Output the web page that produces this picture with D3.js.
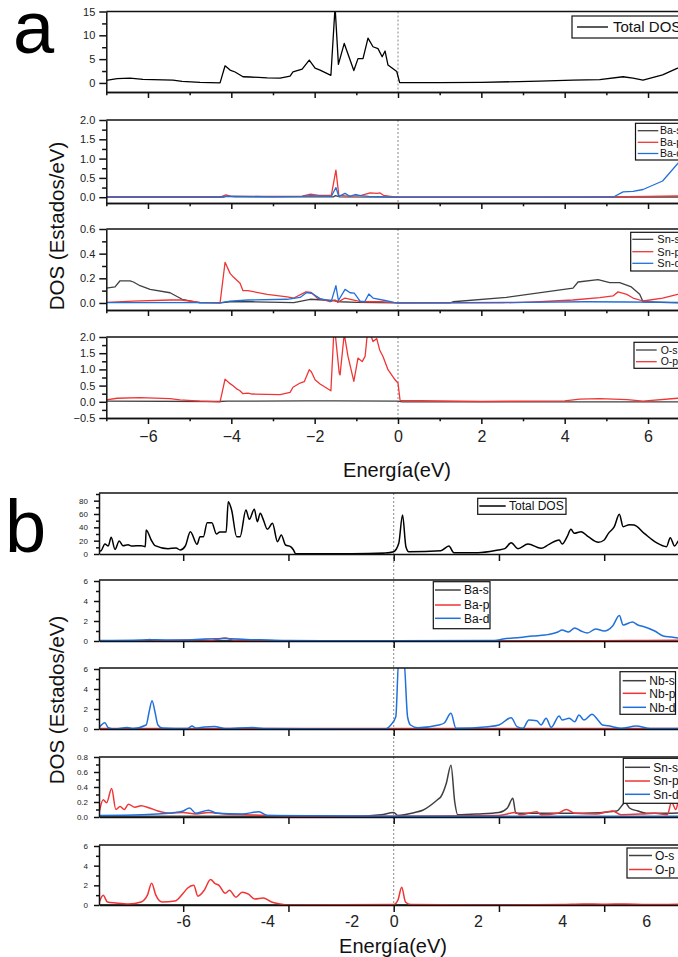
<!DOCTYPE html>
<html><head><meta charset="utf-8">
<script src="https://cdn.jsdelivr.net/npm/d3@7"></script>
<style>body{margin:0;background:#fff}svg{display:block;font-family:"Liberation Sans",Arial,sans-serif}</style>
</head><body><svg id="c" width="678" height="957"></svg>
<script>
// ---------- DATA (energy eV, DOS states/eV) ----------
// Panel a
const aTotal = [[-7.0,0.56],[-6.74,0.9],[-6.43,1.0],[-6.12,0.75],[-5.4,0.6],[-5.18,0.35],[-4.75,0.1],[-4.27,0.02],[-4.15,3.6],[-4.03,2.7],[-3.91,2.3],[-3.72,1.3],[-3.55,1.25],[-3.14,1.05],[-2.83,1.0],[-2.59,1.45],[-2.52,2.3],[-2.30,2.9],[-2.13,4.8],[-1.99,3.1],[-1.87,2.7],[-1.61,1.6],[-1.51,16],[-1.43,3.9],[-1.29,8.3],[-1.06,2.6],[-0.96,5.1],[-0.84,5.1],[-0.72,9.4],[-0.60,7.6],[-0.48,7.2],[-0.38,5.5],[-0.31,6.7],[-0.24,3.75],[-0.03,2.4],[0.04,0.06],[1.0,0.05],[2.0,0.1],[3.4,0.4],[4.2,0.6],[4.84,0.7],[5.4,1.3],[5.64,1.0],[5.88,0.6],[6.35,1.7],[6.71,3.1],[7.0,4.6]];
const aBaS = [[-7,0.005],[-4.2,0.005],[-4.1,0.02],[-3.9,0.01],[-1.55,0.01],[-1.5,0.04],[-1.4,0.01],[0,0.003],[7,0.005]];
const aBaP = [[-7,0.01],[-5,0.01],[-4.27,0.0],[-4.13,0.06],[-4.0,0.02],[-3,0.02],[-2.3,0.03],[-2.1,0.08],[-1.9,0.05],[-1.6,0.05],[-1.49,0.70],[-1.42,0.05],[-1.2,0.03],[-0.9,0.04],[-0.67,0.11],[-0.5,0.1],[-0.43,0.11],[-0.35,0.05],[-0.05,0.0],[4,0.0],[5,0.01],[6,0.02],[7,0.04]];
const aBaD = [[-7,0.0],[-4.27,0.0],[-4.1,0.03],[-3,0.01],[-2.3,0.02],[-2.1,0.04],[-1.6,0.02],[-1.49,0.25],[-1.42,0.02],[-1.27,0.1],[-1.15,0.02],[-1.03,0.07],[-0.9,0.04],[-0.7,0.02],[0,0.0],[5.16,0.0],[5.4,0.14],[5.64,0.15],[5.88,0.2],[6.35,0.42],[6.71,0.87],[7.0,1.25]];
const aSnS = [[-7.0,0.12],[-6.79,0.13],[-6.67,0.18],[-6.43,0.18],[-6.35,0.17],[-6.19,0.14],[-5.95,0.11],[-5.47,0.083],[-5.18,0.03],[-4.75,0.0],[-4.27,0.0],[-4.03,0.01],[-3.5,0.01],[-2.5,0.003],[-2.11,0.03],[-1.56,0.02],[-1.39,0.01],[-1.0,0.005],[0,0.0],[1.25,0.0],[1.32,0.01],[2.6,0.046],[4.2,0.12],[4.32,0.17],[4.8,0.19],[5.08,0.165],[5.32,0.165],[5.6,0.13],[5.8,0.07],[5.88,0.01],[6.71,0.0],[7.0,0.0]];
const aSnP = [[-7.0,0.005],[-6.35,0.015],[-5.47,0.024],[-5.2,0.024],[-4.75,0.005],[-4.27,0.0],[-4.15,0.33],[-4.03,0.24],[-3.95,0.21],[-3.79,0.16],[-3.72,0.10],[-3.6,0.10],[-3.14,0.07],[-2.66,0.05],[-2.5,0.04],[-2.21,0.09],[-2.08,0.085],[-1.94,0.04],[-1.63,0.01],[-1.51,0.025],[-1.45,0.005],[-1.27,0.04],[-0.9,0.01],[-0.4,0.01],[0,0.0],[2.5,0.0],[3.4,0.01],[4.2,0.024],[4.84,0.043],[5.16,0.057],[5.28,0.09],[5.49,0.07],[5.64,0.04],[5.88,0.016],[6.35,0.04],[6.71,0.07],[7.0,0.09]];
const aSnD = [[-7.0,0.003],[-4.5,0.003],[-4.27,0.0],[-4.03,0.015],[-3.6,0.024],[-2.66,0.03],[-2.35,0.045],[-2.19,0.085],[-2.05,0.075],[-1.87,0.035],[-1.6,0.015],[-1.49,0.14],[-1.43,0.02],[-1.27,0.11],[-1.15,0.083],[-1.05,0.08],[-0.91,0.015],[-0.8,0.01],[-0.7,0.073],[-0.6,0.04],[-0.31,0.02],[-0.1,0.005],[0,0.0],[3,0.005],[4.5,0.01],[5.5,0.008],[7,0.004]];
const aOS = [[-7,0.02],[-4.3,0.01],[-4.1,0.02],[-2.2,0.03],[-1.5,0.03],[0,0.02],[0.1,0.0],[7,0.0]];
const aOP = [[-7.0,0.06],[-6.74,0.11],[-6.19,0.13],[-5.47,0.1],[-5.23,0.06],[-4.75,0.02],[-4.27,0.0],[-4.15,0.70],[-4.03,0.56],[-3.95,0.49],[-3.86,0.39],[-3.8,0.35],[-3.72,0.25],[-3.6,0.27],[-3.5,0.24],[-2.83,0.22],[-2.59,0.29],[-2.52,0.45],[-2.35,0.58],[-2.25,0.62],[-2.13,0.99],[-2.08,0.93],[-1.99,0.68],[-1.87,0.55],[-1.61,0.34],[-1.53,2.4],[-1.41,0.88],[-1.39,0.83],[-1.29,2.1],[-1.2,1.4],[-1.06,0.63],[-0.96,1.35],[-0.86,1.24],[-0.79,1.4],[-0.72,2.3],[-0.60,1.86],[-0.51,1.95],[-0.44,1.6],[-0.36,1.4],[-0.24,0.99],[-0.07,0.68],[0.0,0.58],[0.05,0.04],[2,0.01],[4.0,0.03],[4.36,0.08],[4.84,0.1],[5.5,0.07],[5.88,0.02],[6.71,0.11],[7.0,0.14]];
// Panel b
const bTotal = [[-7.0,4.5],[-6.95,5],[-6.86,15],[-6.78,12],[-6.71,25],[-6.62,7],[-6.52,19.5],[-6.43,12.5],[-6.31,14],[-6.23,12],[-6.0,12.5],[-5.9,11],[-5.88,36],[-5.76,21],[-5.67,12.5],[-5.36,8],[-5.17,9],[-5.07,6],[-4.95,12],[-4.83,33.5],[-4.67,14.5],[-4.60,26],[-4.52,26],[-4.43,47],[-4.32,47],[-4.21,30],[-4.13,33],[-3.98,33],[-3.93,78.5],[-3.85,66],[-3.73,26],[-3.65,26],[-3.51,66],[-3.43,52],[-3.31,67],[-3.24,48.5],[-3.17,61],[-3.1,52],[-3.0,37],[-2.88,46],[-2.76,18.5],[-2.67,28.5],[-2.57,13.5],[-2.45,11],[-2.38,6],[-2.33,0.5],[-1.0,0.3],[-0.2,1.5],[0.0,3.5],[0.12,16],[0.21,58.5],[0.29,11],[0.36,3.5],[1.12,5],[1.31,12],[1.43,2],[2.0,2],[2.48,6],[2.64,8],[2.79,17],[2.95,8],[3.19,15],[3.5,8.5],[3.69,14.5],[3.93,21],[4.0,15],[4.12,26],[4.21,37],[4.29,31],[4.45,33.5],[4.62,26],[4.86,17.5],[5.0,21],[5.1,31],[5.24,41],[5.36,59.5],[5.45,41],[5.6,44],[5.71,43.5],[5.95,31],[6.24,17],[6.48,11],[6.57,24.5],[6.67,12],[6.79,21],[7.0,18]];
const bBaS = [[-7,0.03],[0,0.03],[7,0.03]];
const bBaP = [[-7,0.02],[-6,0.03],[-5.8,0.15],[-5.6,0.03],[-4.6,0.12],[-4.3,0.08],[-4.0,0.3],[-3.8,0.08],[-3.5,0.1],[-3,0.05],[-2.4,0.0],[3,0.0],[5,0.03],[6,0.05],[7,0.1]];
const bBaD = [[-7,0.05],[-6,0.1],[-5.8,0.12],[-5,0.1],[-4.5,0.2],[-4.0,0.25],[-3.5,0.15],[-3,0.1],[-2.5,0.05],[0,0.02],[2.4,0.05],[2.6,0.2],[3.0,0.35],[3.3,0.5],[3.6,0.6],[3.9,0.9],[4.0,1.1],[4.15,0.9],[4.3,1.3],[4.45,1.0],[4.6,0.8],[4.8,1.2],[5.0,1.0],[5.2,1.5],[5.36,2.56],[5.45,1.6],[5.67,1.9],[5.8,1.6],[5.93,1.45],[6.2,1.0],[6.4,0.5],[6.6,0.4],[6.8,0.3],[7,0.3]];
const bNbS = [[-7,0.0],[7,0.0]];
const bNbP = [[-7,0.05],[7,0.05]];
const bNbD = [[-7.0,0.13],[-6.86,0.63],[-6.78,0.13],[-6.62,0.0],[-6.33,0.15],[-6.2,0.05],[-5.88,0.4],[-5.81,1.7],[-5.74,2.83],[-5.67,1.7],[-5.6,0.4],[-5.5,0.1],[-4.9,0.05],[-4.79,0.3],[-4.7,0.1],[-4.5,0.2],[-4.26,0.25],[-4.0,0.05],[-3.36,0.15],[-3.1,0.05],[-0.2,0.0],[-0.07,0.4],[0.05,1.23],[0.12,7],[0.24,7],[0.33,1.2],[0.4,0.4],[0.57,0.13],[1.07,0.4],[1.2,0.6],[1.36,1.57],[1.48,0.07],[2.24,0.23],[2.5,0.4],[2.79,1.13],[2.93,0.23],[3.07,0.07],[3.21,0.9],[3.4,0.83],[3.5,0.4],[3.62,1.07],[3.74,0.17],[3.93,1.3],[4.0,0.9],[4.17,1.07],[4.3,0.73],[4.40,1.4],[4.52,0.9],[4.71,1.47],[4.85,0.9],[4.96,0.4],[5.1,0.33],[5.2,0.23],[5.4,0.07],[5.76,0.3],[6.1,0.05],[7,0.05]];
const bSnS = [[-7,0.01],[-1,0.01],[-0.3,0.03],[0,0.06],[0.1,0.02],[0.5,0.06],[0.69,0.09],[1.04,0.23],[1.12,0.27],[1.25,0.45],[1.36,0.69],[1.45,0.2],[1.52,0.03],[2,0.04],[2.5,0.06],[2.7,0.12],[2.83,0.25],[2.9,0.05],[3.5,0.05],[4.5,0.05],[5.3,0.08],[5.5,0.19],[5.6,0.12],[5.8,0.08],[6,0.05],[6.5,0.05],[7,0.06]];
const bSnP = [[-7,0.05],[-6.9,0.23],[-6.82,0.19],[-6.7,0.38],[-6.6,0.1],[-6.5,0.14],[-6.4,0.1],[-6.3,0.17],[-6.15,0.13],[-6.0,0.15],[-5.8,0.12],[-5.6,0.08],[-5.3,0.05],[-5,0.06],[-4.7,0.04],[-4.4,0.06],[-4,0.04],[-3.5,0.03],[-3,0.02],[-2,0.01],[0,0.01],[2.5,0.02],[2.9,0.06],[3.0,0.03],[3.4,0.07],[3.5,0.03],[3.9,0.05],[4.1,0.1],[4.3,0.05],[4.8,0.04],[5.2,0.08],[5.4,0.03],[5.9,0.04],[6.2,0.05],[6.5,0.03],[6.6,0.2],[6.7,0.1],[6.8,0.28],[6.9,0.15],[7,0.3]];
const bSnD = [[-7,0.02],[-6,0.03],[-5.2,0.06],[-5.0,0.08],[-4.85,0.12],[-4.7,0.05],[-4.4,0.09],[-4.2,0.05],[-3.6,0.04],[-3.2,0.07],[-3,0.02],[0,0.01],[7,0.01]];
const bOS = [[-7,0.02],[7,0.02]];
const bOP = [[-7,0.2],[-6.9,1.0],[-6.8,0.3],[-6.6,0.2],[-6.3,0.1],[-6,0.3],[-5.85,1.0],[-5.75,2.2],[-5.65,1.0],[-5.5,0.3],[-5.2,0.4],[-5.0,1.2],[-4.9,1.7],[-4.75,2.0],[-4.65,0.9],[-4.5,1.5],[-4.35,2.6],[-4.25,2.2],[-4.15,2.0],[-4.0,1.2],[-3.9,1.5],[-3.75,0.8],[-3.6,1.3],[-3.45,1.1],[-3.3,0.6],[-3.1,0.7],[-2.9,0.3],[-2.7,0.1],[-2.5,0],[0,0.05],[0.1,0.5],[0.19,1.8],[0.28,0.3],[0.4,0.05],[2,0],[4,0.05],[4.5,0.1],[5,0.08],[5.5,0.1],[6,0.05],[7,0.1]];

// tick values
const aXMajor = [-6,-4,-2,0,2,4,6], aXMinor = [-7,-5,-3,-1,1,3,5,7];
const bXMajor = [-5,-2.5,0,2.5,5];
// bottom labels of panel b, as printed in the figure (position on the energy axis, text)
const bXLabelPos = [-5,-3,-1,0,2,4,6];
const bXLabelText = ['-6','-4','-2','0','2','4','6'];

// ---------- DRAWING ----------
const svg = d3.select('#c');
const GRAY = '#404040', RED = '#f03535', BLUE = '#2070dc';
let clipId = 0;

function panel(c){
  const x = d3.scaleLinear().domain([-7,7]).range([c.x0, c.x1]);
  const y = d3.scaleLinear().domain(c.yDom).range([c.bottom, c.top]);
  const g = svg.append('g');
  const id = 'clip'+(clipId++);
  svg.append('clipPath').attr('id', id).append('rect')
    .attr('x', c.x0).attr('y', c.top).attr('width', c.x1-c.x0).attr('height', c.bottom-c.top);
  if (c.dash) g.append('line').attr('x1', x(0)).attr('x2', x(0)).attr('y1', c.top).attr('y2', c.bottom)
      .attr('stroke','#888').attr('stroke-width',1).attr('stroke-dasharray','2,2');
  const line = d3.line().x(d=>x(d[0])).y(d=>y(d[1])).curve(c.curve || d3.curveLinear);
  const lg = g.append('g').attr('clip-path','url(#'+id+')');
  c.series.forEach(s => lg.append('path').datum(s.data).attr('d', line)
      .attr('fill','none').attr('stroke', s.color).attr('stroke-width', c.lw).attr('stroke-linejoin','round'));
  g.append('line').attr('x1', c.x0).attr('x2', c.x1).attr('y1', c.top).attr('y2', c.top)
    .attr('stroke','#111').attr('stroke-width',1.6);
  const ya = g.append('g').attr('transform','translate('+c.x0+',0)')
    .call(d3.axisLeft(y).tickValues(c.yMajor).tickSize(c.ytick).tickSizeOuter(0).tickPadding(c.ypad).tickFormat(c.yFmt));
  ya.append('g').call(d3.axisLeft(y).tickValues(c.yMinor).tickSize(c.ytick*0.6).tickSizeOuter(0).tickFormat(''));
  ya.selectAll('text').attr('font-size', c.yfs).attr('fill','#222').attr('font-family','"Liberation Sans",Arial,sans-serif');
  ya.selectAll('path,line').attr('stroke','#111').attr('stroke-width',1.5);
  ya.select('g path').remove();
  const xa = g.append('g').attr('transform','translate(0,'+c.bottom+')')
    .call(d3.axisBottom(x).tickValues(c.xMajor).tickSize(c.xtick).tickSizeOuter(0).tickFormat(''));
  if (c.xMinor) xa.append('g').call(d3.axisBottom(x).tickValues(c.xMinor).tickSize(c.xtick*0.55).tickSizeOuter(0).tickFormat(''));
  xa.selectAll('path,line').attr('stroke','#111').attr('stroke-width',1.5);
  if (c.xLabels){
    const txt = c.xLabelText || c.xLabels.map(d3.format('d'));
    const xl = g.append('g').attr('transform','translate(0,'+c.bottom+')')
      .call(d3.axisBottom(x).tickValues(c.xLabels).tickSize(0).tickPadding(c.xpad).tickFormat((d,i)=>txt[i]));
    xl.select('path').remove();
    xl.selectAll('text').attr('font-size', c.xfs).attr('fill','#222').attr('font-family','"Liberation Sans",Arial,sans-serif');
  }
  const L = c.legend;
  const leg = g.append('g');
  leg.append('rect').attr('x', L.x).attr('y', L.y).attr('width', L.w).attr('height', L.h)
    .attr('fill','#fff').attr('stroke','#111').attr('stroke-width',1.2);
  c.series.forEach((s,i)=>{
    const yy = L.ry[i];
    leg.append('line').attr('x1', L.lx0).attr('x2', L.lx1).attr('y1', yy).attr('y2', yy)
      .attr('stroke', s.color).attr('stroke-width', L.lw);
    leg.append('text').attr('x', L.tx).attr('y', yy).attr('dy','0.35em').attr('font-size', L.fs)
      .attr('fill','#111').text(s.name);
  });
  return {x,y};
}

const fmt1 = d3.format('.1f'), fmtD = d3.format('d');
// ----- a -----
const axA = {x0:106.3, x1:689.7, ytick:7, ypad:4, yfs:11, xtick:6, lw:1.3, dash:true, xMajor:aXMajor, xMinor:aXMinor};
panel(Object.assign({}, axA, {top:11.5, bottom:92, yDom:[-1.9,15], yMajor:[0,5,10,15], yMinor:[2.5,7.5,12.5], yFmt:fmtD,
  series:[{data:aTotal,color:'#000',name:'Total DOS'}],
  legend:{x:572,y:16,w:130,h:22,ry:[27],lx0:577,lx1:608,tx:613,fs:15,lw:1.3}}));
panel(Object.assign({}, axA, {top:120, bottom:203, yDom:[-0.15,2.0], yMajor:[0,0.5,1,1.5,2], yMinor:[0.25,0.75,1.25,1.75], yFmt:fmt1,
  series:[{data:aBaS,color:GRAY,name:'Ba-s'},{data:aBaP,color:RED,name:'Ba-p'},{data:aBaD,color:BLUE,name:'Ba-d'}],
  legend:{x:635.5,y:123.3,w:60,h:36.7,ry:[130.7,142.3,153.5],lx0:637.7,lx1:658.3,tx:660,fs:10.5,lw:1.3}}));
panel(Object.assign({}, axA, {top:229, bottom:310, yDom:[-0.057,0.6], yMajor:[0,0.2,0.4,0.6], yMinor:[0.1,0.3,0.5], yFmt:fmt1,
  series:[{data:aSnS,color:GRAY,name:'Sn-s'},{data:aSnP,color:RED,name:'Sn-p'},{data:aSnD,color:BLUE,name:'Sn-d'}],
  legend:{x:630.7,y:232.3,w:60,h:38.7,ry:[239.3,251.7,263.3],lx0:632.3,lx1:653.3,tx:657.3,fs:11,lw:1.3}}));
panel(Object.assign({}, axA, {top:337, bottom:418, yDom:[-0.5,2.0], yMajor:[-0.5,0,0.5,1,1.5,2], yMinor:[-0.25,0.25,0.75,1.25,1.75], yFmt:fmt1,
  series:[{data:aOS,color:GRAY,name:'O-s'},{data:aOP,color:RED,name:'O-p'}],
  xLabels:aXMajor, xpad:12.5, xfs:16,
  legend:{x:634,y:342.3,w:60,h:26,ry:[350,361.7],lx0:636,lx1:656.7,tx:660.7,fs:10.5,lw:1.3}}));

// ----- b -----
const axB = {x0:99, x1:688.4, ytick:5, ypad:6, yfs:8, xtick:7, lw:1.5, dash:false, xMajor:bXMajor, curve:d3.curveMonotoneX};
const pb1 = panel(Object.assign({}, axB, {top:493, bottom:554, yDom:[0,91.5], yMajor:[0,20,40,60,80], yMinor:[10,30,50,70,90], yFmt:fmtD,
  series:[{data:bTotal,color:'#000',name:'Total DOS'}],
  legend:{x:477.7,y:498.3,w:88.3,h:16,ry:[506],lx0:479.3,lx1:505.7,tx:509,fs:12,lw:1.5}}));
panel(Object.assign({}, axB, {top:580, bottom:641, yDom:[0,6.1], yMajor:[0,2,4,6], yMinor:[1,3,5], yFmt:fmtD,
  series:[{data:bBaS,color:GRAY,name:'Ba-s'},{data:bBaP,color:RED,name:'Ba-p'},{data:bBaD,color:BLUE,name:'Ba-d'}],
  legend:{x:433.3,y:581.7,w:56.7,h:47,ry:[590,605,618.3],lx0:435,lx1:460.7,tx:464,fs:12,lw:1.5}}));
panel(Object.assign({}, axB, {top:668, bottom:729, yDom:[0,6.1], yMajor:[0,2,4,6], yMinor:[1,3,5], yFmt:fmtD,
  series:[{data:bNbS,color:GRAY,name:'Nb-s'},{data:bNbP,color:RED,name:'Nb-p'},{data:bNbD,color:BLUE,name:'Nb-d'}],
  legend:{x:620,y:671.7,w:55.5,h:42.6,ry:[680.7,693.3,707.3],lx0:622.7,lx1:646,tx:649.3,fs:12,lw:1.5}}));
panel(Object.assign({}, axB, {top:757, bottom:817, yDom:[0,0.8], yMajor:[0,0.2,0.4,0.6,0.8], yMinor:[0.1,0.3,0.5,0.7], yFmt:fmt1,
  series:[{data:bSnS,color:GRAY,name:'Sn-s'},{data:bSnP,color:RED,name:'Sn-p'},{data:bSnD,color:BLUE,name:'Sn-d'}],
  legend:{x:623.3,y:758.3,w:60,h:45,ry:[767.3,781,794.3],lx0:625,lx1:650,tx:653.3,fs:12,lw:1.5}}));
panel(Object.assign({}, axB, {top:845, bottom:905, yDom:[0,6.1], yMajor:[0,2,4,6], yMinor:[1,3,5], yFmt:fmtD,
  series:[{data:bOS,color:GRAY,name:'O-s'},{data:bOP,color:RED,name:'O-p'}],
  xLabels:bXLabelPos, xLabelText:bXLabelText, xpad:11, xfs:16,
  legend:{x:627,y:848,w:60,h:30,ry:[855.5,869.5],lx0:629,lx1:652,tx:655,fs:12,lw:1.5}}));
svg.append('line').attr('x1', pb1.x(0)).attr('x2', pb1.x(0)).attr('y1', 493).attr('y2', 905)
  .attr('stroke','#888').attr('stroke-width',1).attr('stroke-dasharray','2,2').lower();

// ----- labels -----
svg.append('text').attr('x',13).attr('y',53).attr('font-size',74).attr('fill','#000').text('a');
svg.append('text').attr('x',5).attr('y',552).attr('font-size',74).attr('fill','#000').text('b');
svg.append('text').attr('transform','translate(64,226) rotate(-90)').attr('text-anchor','middle')
  .attr('font-size',20.5).attr('fill','#111').text('DOS (Estados/eV)');
svg.append('text').attr('transform','translate(64,700) rotate(-90)').attr('text-anchor','middle')
  .attr('font-size',20.5).attr('fill','#111').text('DOS (Estados/eV)');
svg.append('text').attr('x',397).attr('y',477).attr('text-anchor','middle').attr('font-size',20).attr('fill','#111').text('Energía(eV)');
svg.append('text').attr('x',393).attr('y',953).attr('text-anchor','middle').attr('font-size',20).attr('fill','#111').text('Energía(eV)');
</script></body></html>
